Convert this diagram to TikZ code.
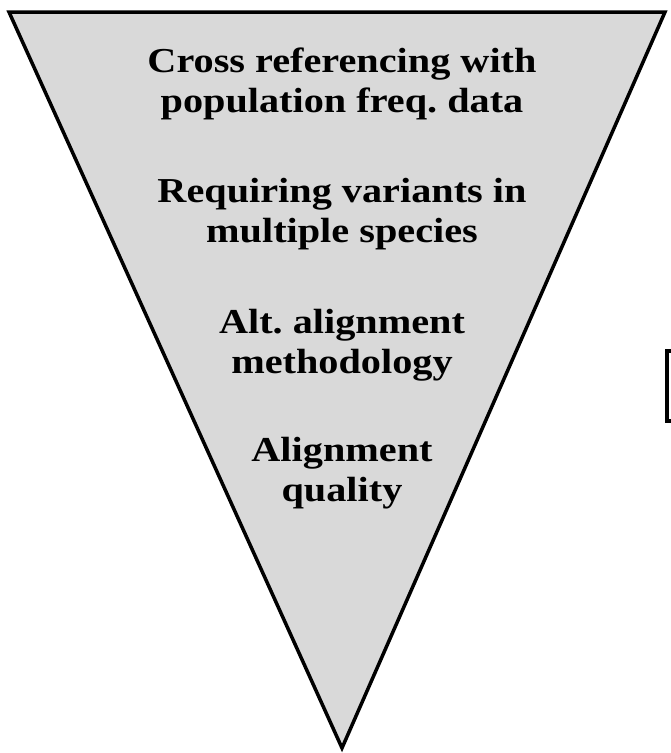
\documentclass[tikz,border=0pt]{standalone}
\usepackage{fontspec}
\setmainfont{Liberation Serif}
\newfontfamily\stagefont[FakeStretch=1.15]{Liberation Serif}
\usepackage{tikz}
\usetikzlibrary{positioning}
\definecolor{FunnelGray}{RGB}{217,217,217}
\frenchspacing

\begin{document}
\begin{tikzpicture}[x=1pt,y=-1pt]
\useasboundingbox (0,0) rectangle (671,753);
\begin{scope}
\clip (0,0) rectangle (671,753);
\draw[line width=3.5pt] (667,351) rectangle (700,421);
\end{scope}
\draw[fill=FunnelGray,line width=3.5pt,line join=miter] (9,12) -- (665,12) -- (342,748) -- cycle;
\tikzset{stage/.style={align=center,font=\stagefont\bfseries\fontsize{35}{40}\selectfont}}
\node[stage] (xref)  at (342,84)  {Cross referencing with\\population freq. data};
\node[stage] (multi) at (342,214) {Requiring variants in\\multiple species};
\node[stage] (alt)   at (342,345) {Alt. alignment\\methodology};
\node[stage] (qual)  at (342,473) {Alignment\\quality};
\end{tikzpicture}
\end{document}
